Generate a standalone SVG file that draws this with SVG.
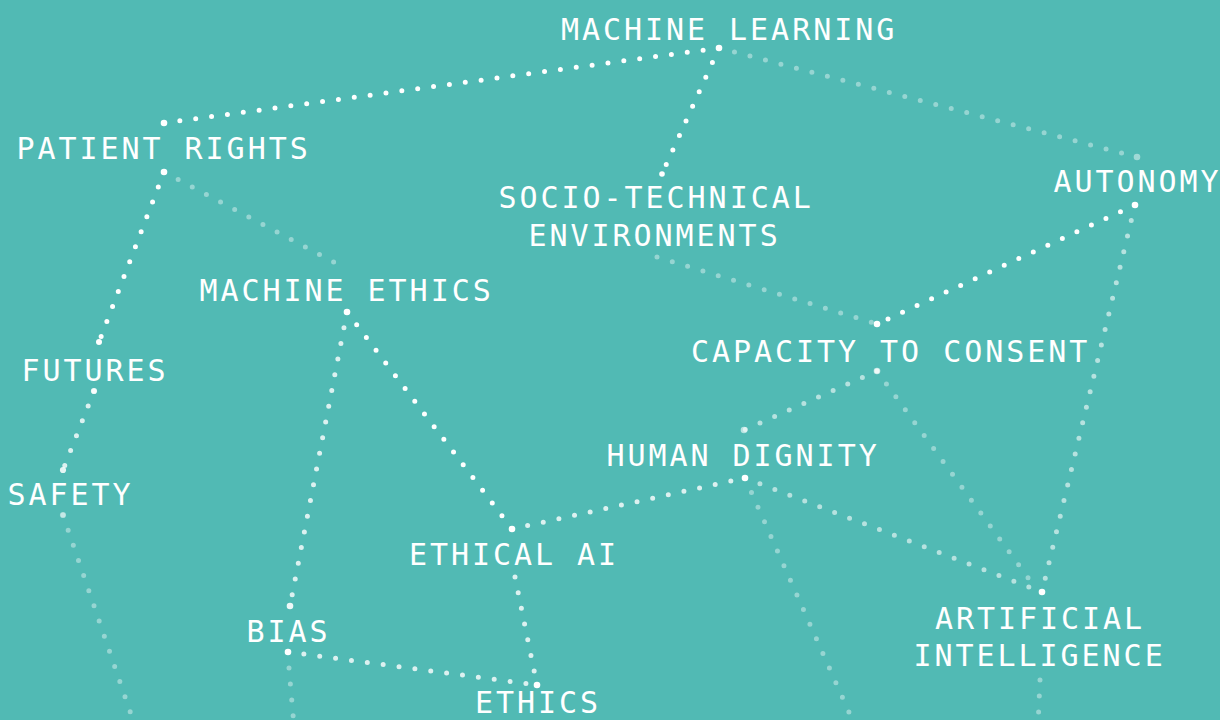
<svg xmlns="http://www.w3.org/2000/svg" width="1220" height="720" viewBox="0 0 1220 720">
  <style>
    .lbl { font-family: "DejaVu Sans Mono", "Liberation Mono", monospace; font-size: 30px; letter-spacing: 2.95px; fill: #ffffff; }
    .edge { fill: none; stroke: #ffffff; stroke-width: 5; stroke-linecap: round; stroke-dasharray: 0 16; }
    .w { stroke-opacity: 1; }
    .l { stroke-opacity: 0.8; }
    .m { stroke-opacity: 0.58; }
    .f { stroke-opacity: 0.4; }
    .end { fill: #ffffff; }
  </style>
  <rect width="1220" height="720" fill="#51bab4"/>

  <!-- dotted connectors -->
  <g id="connectors">
    <line class="edge w" x1="164" y1="123" x2="719" y2="48"/>
    <line class="edge w" x1="719" y1="48" x2="662" y2="174"/>
    <line class="edge f" x1="719" y1="48" x2="1137" y2="157"/>
    <line class="edge w" x1="164" y1="172" x2="99" y2="342"/>
    <line class="edge f" x1="164" y1="172" x2="345" y2="268"/>
    <line class="edge l" x1="94" y1="391" x2="63" y2="470"/>
    <line class="edge f" x1="63" y1="515" x2="135" y2="726"/>
    <line class="edge f" x1="657" y1="257" x2="877" y2="324"/>
    <line class="edge w" x1="1135" y1="205" x2="877" y2="324"/>
    <line class="edge m" x1="1135" y1="205" x2="1042" y2="592"/>
    <line class="edge w" x1="347" y1="312" x2="512" y2="529"/>
    <line class="edge l" x1="347" y1="312" x2="290" y2="606"/>
    <line class="edge l" x1="512" y1="529" x2="745" y2="478"/>
    <line class="edge m" x1="877" y1="371" x2="744" y2="430"/>
    <line class="edge f" x1="877" y1="371" x2="1037" y2="590"/>
    <line class="edge m" x1="745" y1="478" x2="1042" y2="592"/>
    <line class="edge f" x1="745" y1="478" x2="856" y2="728"/>
    <line class="edge f" x1="1040" y1="680" x2="1038" y2="726"/>
    <line class="edge l" x1="515" y1="577" x2="537" y2="685"/>
    <line class="edge l" x1="288" y1="652" x2="537" y2="685"/>
    <line class="edge f" x1="289" y1="668" x2="294" y2="726"/>

    <!-- end points -->
    <g class="end">
      <circle cx="164" cy="123" r="3.3"/>
      <circle cx="719" cy="48" r="3.3"/>
      <circle cx="662" cy="174" r="2.8"/>
      <circle cx="164" cy="172" r="3.3"/>
      <circle cx="99" cy="342" r="3"/>
      <circle cx="1135" cy="205" r="3.3"/>
      <circle cx="877" cy="324" r="3.3"/>
      <circle cx="745" cy="478" r="3.3"/>
      <circle cx="1042" cy="592" r="3.3"/>
      <circle cx="347" cy="312" r="3.3"/>
      <circle cx="512" cy="529" r="3.3"/>
      <circle cx="288" cy="652" r="3.3"/>
      <circle cx="537" cy="685" r="3.3"/>
      <circle cx="290" cy="606" r="3.3" fill-opacity="0.9"/>
      <circle cx="94" cy="391" r="3.1" fill-opacity="0.85"/>
      <circle cx="63" cy="470" r="3.1" fill-opacity="0.85"/>
      <circle cx="877" cy="371" r="3.3" fill-opacity="0.65"/>
      <circle cx="1137" cy="157" r="3.3" fill-opacity="0.45"/>
      <circle cx="63" cy="515" r="3.1" fill-opacity="0.45"/>
      <circle cx="744" cy="430" r="3.3" fill-opacity="0.6"/>
    </g>
  </g>

  <g id="node-machine-learning"><text class="lbl" x="561" y="40">MACHINE LEARNING</text></g>
  <g id="node-patient-rights"><text class="lbl" x="16.5" y="159">PATIENT RIGHTS</text></g>
  <g id="node-socio-technical">
    <text class="lbl" x="498.5" y="208">SOCIO-TECHNICAL</text>
    <text class="lbl" x="528.5" y="246">ENVIRONMENTS</text>
  </g>
  <g id="node-autonomy"><text class="lbl" x="1053.5" y="192">AUTONOMY</text></g>
  <g id="node-machine-ethics"><text class="lbl" x="199.5" y="301">MACHINE ETHICS</text></g>
  <g id="node-capacity-to-consent"><text class="lbl" x="691" y="362">CAPACITY TO CONSENT</text></g>
  <g id="node-futures"><text class="lbl" x="21.5" y="381">FUTURES</text></g>
  <g id="node-safety"><text class="lbl" x="7.5" y="505">SAFETY</text></g>
  <g id="node-human-dignity"><text class="lbl" x="606.5" y="466">HUMAN DIGNITY</text></g>
  <g id="node-ethical-ai"><text class="lbl" x="409" y="565">ETHICAL AI</text></g>
  <g id="node-bias"><text class="lbl" x="246.5" y="641.5">BIAS</text></g>
  <g id="node-ethics"><text class="lbl" x="475" y="713">ETHICS</text></g>
  <g id="node-artificial-intelligence">
    <text class="lbl" x="935" y="629">ARTIFICIAL</text>
    <text class="lbl" x="913.5" y="666">INTELLIGENCE</text>
  </g>
</svg>
